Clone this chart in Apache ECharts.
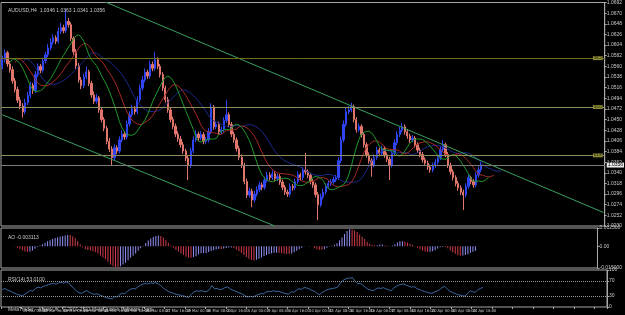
<!DOCTYPE html>
<html>
<head>
<meta charset="utf-8">
<script src="https://cdn.jsdelivr.net/npm/echarts@6/dist/echarts.min.js"></script>
<style>
  html, body { margin: 0; padding: 0; background: #000; }
  #chart { width: 625px; height: 315px; }
</style>
</head>
<body>
<div id="chart"></div>
<script>
// ===== AUDUSD H4 candles =====
var opens = [
  1.0560, 1.0574, 1.0588, 1.0565, 1.0553, 1.0530, 1.0512, 1.0490, 1.0478, 1.0466,
  1.0485, 1.0500, 1.0521, 1.0510, 1.0543, 1.0560, 1.0552, 1.0571, 1.0584, 1.0598,
  1.0610, 1.0619, 1.0612, 1.0632, 1.0640, 1.0634, 1.0653, 1.0646, 1.0618, 1.0590,
  1.0561, 1.0532, 1.0520, 1.0538, 1.0549, 1.0525, 1.0501, 1.0488, 1.0495, 1.0470,
  1.0450, 1.0432, 1.0405, 1.0389, 1.0371, 1.0392, 1.0385, 1.0408, 1.0420, 1.0414,
  1.0441, 1.0460, 1.0472, 1.0466, 1.0491, 1.0515, 1.0532, 1.0548, 1.0540, 1.0564,
  1.0556, 1.0574, 1.0560, 1.0543, 1.0515, 1.0491, 1.0470, 1.0450, 1.0436, 1.0420,
  1.0410, 1.0398, 1.0385, 1.0370, 1.0356, 1.0385, 1.0408, 1.0420, 1.0412, 1.0419,
  1.0405, 1.0408, 1.0425, 1.0476, 1.0435, 1.0440, 1.0425, 1.0429, 1.0448, 1.0460,
  1.0440, 1.0420, 1.0408, 1.0390, 1.0372, 1.0356, 1.0322, 1.0294, 1.0302, 1.0284,
  1.0296, 1.0305, 1.0315, 1.0310, 1.0325, 1.0335, 1.0330, 1.0338, 1.0328, 1.0332,
  1.0321, 1.0310, 1.0300, 1.0296, 1.0312, 1.0309, 1.0322, 1.0336, 1.0330, 1.0345,
  1.0342, 1.0335, 1.0322, 1.0315, 1.0295, 1.0274, 1.0290, 1.0300, 1.0312, 1.0318,
  1.0321, 1.0326, 1.0330, 1.0365, 1.0408, 1.0440, 1.0466, 1.0470, 1.0477, 1.0450,
  1.0429, 1.0436, 1.0419, 1.0398, 1.0377, 1.0365, 1.0356, 1.0372, 1.0387, 1.0380,
  1.0390, 1.0377, 1.0368, 1.0356, 1.0380, 1.0402, 1.0419, 1.0428, 1.0435, 1.0425,
  1.0416, 1.0408, 1.0412, 1.0398, 1.0387, 1.0378, 1.0367, 1.0360, 1.0352, 1.0346,
  1.0355, 1.0362, 1.0371, 1.0388, 1.0398, 1.0378, 1.0356, 1.0342, 1.0330, 1.0318,
  1.0309, 1.0300, 1.0294, 1.0312, 1.0330, 1.0322, 1.0315, 1.0335, 1.0346
];
var closes = [
  1.0574, 1.0588, 1.0565, 1.0553, 1.0530, 1.0512, 1.0490, 1.0478, 1.0466, 1.0485,
  1.0500, 1.0521, 1.0510, 1.0543, 1.0560, 1.0552, 1.0571, 1.0584, 1.0598, 1.0610,
  1.0619, 1.0612, 1.0632, 1.0640, 1.0634, 1.0653, 1.0646, 1.0618, 1.0590, 1.0561,
  1.0532, 1.0520, 1.0538, 1.0549, 1.0525, 1.0501, 1.0488, 1.0495, 1.0470, 1.0450,
  1.0432, 1.0405, 1.0389, 1.0371, 1.0392, 1.0385, 1.0408, 1.0420, 1.0414, 1.0441,
  1.0460, 1.0472, 1.0466, 1.0491, 1.0515, 1.0532, 1.0548, 1.0540, 1.0564, 1.0556,
  1.0574, 1.0560, 1.0543, 1.0515, 1.0491, 1.0470, 1.0450, 1.0436, 1.0420, 1.0410,
  1.0398, 1.0385, 1.0370, 1.0356, 1.0385, 1.0408, 1.0420, 1.0412, 1.0419, 1.0405,
  1.0408, 1.0425, 1.0476, 1.0435, 1.0440, 1.0425, 1.0429, 1.0448, 1.0460, 1.0440,
  1.0420, 1.0408, 1.0390, 1.0372, 1.0356, 1.0322, 1.0294, 1.0302, 1.0284, 1.0296,
  1.0305, 1.0315, 1.0310, 1.0325, 1.0335, 1.0330, 1.0338, 1.0328, 1.0332, 1.0321,
  1.0310, 1.0300, 1.0296, 1.0312, 1.0309, 1.0322, 1.0336, 1.0330, 1.0345, 1.0342,
  1.0335, 1.0322, 1.0315, 1.0295, 1.0274, 1.0290, 1.0300, 1.0312, 1.0318, 1.0321,
  1.0326, 1.0330, 1.0365, 1.0408, 1.0440, 1.0466, 1.0470, 1.0477, 1.0450, 1.0429,
  1.0436, 1.0419, 1.0398, 1.0377, 1.0365, 1.0356, 1.0372, 1.0387, 1.0380, 1.0390,
  1.0377, 1.0368, 1.0356, 1.0380, 1.0402, 1.0419, 1.0428, 1.0435, 1.0425, 1.0416,
  1.0408, 1.0412, 1.0398, 1.0387, 1.0378, 1.0367, 1.0360, 1.0352, 1.0346, 1.0355,
  1.0362, 1.0371, 1.0388, 1.0398, 1.0378, 1.0356, 1.0342, 1.0330, 1.0318, 1.0309,
  1.0300, 1.0294, 1.0312, 1.0330, 1.0322, 1.0315, 1.0335, 1.0346, 1.0356
];
var highs = [
  1.0582, 1.0595, 1.0592, 1.0571, 1.0560, 1.0536, 1.0518, 1.0497, 1.0484, 1.0493,
  1.0507, 1.0528, 1.0526, 1.0550, 1.0566, 1.0565, 1.0578, 1.0590, 1.0606, 1.0618,
  1.0626, 1.0624, 1.0640, 1.0650, 1.0646, 1.0678, 1.0660, 1.0651, 1.0622, 1.0596,
  1.0567, 1.0538, 1.0545, 1.0560, 1.0553, 1.0530, 1.0508, 1.0503, 1.0499, 1.0476,
  1.0455, 1.0437, 1.0412, 1.0395, 1.0399, 1.0397, 1.0415, 1.0428, 1.0426, 1.0448,
  1.0467, 1.0480, 1.0478, 1.0498, 1.0522, 1.0540, 1.0556, 1.0553, 1.0572, 1.0570,
  1.0590, 1.0579, 1.0565, 1.0548, 1.0520, 1.0497, 1.0476, 1.0456, 1.0442, 1.0426,
  1.0416, 1.0404, 1.0390, 1.0376, 1.0392, 1.0415, 1.0428, 1.0425, 1.0426, 1.0424,
  1.0414, 1.0432, 1.0484, 1.0480, 1.0447, 1.0446, 1.0436, 1.0455, 1.0491, 1.0465,
  1.0445, 1.0425, 1.0413, 1.0396, 1.0378, 1.0361, 1.0328, 1.0309, 1.0307, 1.0303,
  1.0312, 1.0322, 1.0320, 1.0332, 1.0342, 1.0341, 1.0345, 1.0343, 1.0338, 1.0337,
  1.0326, 1.0315, 1.0305, 1.0318, 1.0317, 1.0328, 1.0343, 1.0340, 1.0352, 1.0381,
  1.0347, 1.0340, 1.0327, 1.0320, 1.0300, 1.0297, 1.0307, 1.0318, 1.0324, 1.0327,
  1.0332, 1.0336, 1.0372, 1.0415, 1.0448, 1.0474, 1.0478, 1.0485, 1.0481, 1.0455,
  1.0442, 1.0440, 1.0424, 1.0403, 1.0382, 1.0370, 1.0378, 1.0394, 1.0392, 1.0396,
  1.0395, 1.0382, 1.0373, 1.0386, 1.0409, 1.0426, 1.0435, 1.0443, 1.0440, 1.0430,
  1.0421, 1.0418, 1.0416, 1.0403, 1.0392, 1.0383, 1.0372, 1.0365, 1.0357, 1.0361,
  1.0368, 1.0377, 1.0395, 1.0408, 1.0402, 1.0383, 1.0361, 1.0347, 1.0335, 1.0323,
  1.0314, 1.0305, 1.0318, 1.0337, 1.0334, 1.0327, 1.0341, 1.0353, 1.0363
];
var lows = [
  1.0554, 1.0568, 1.0559, 1.0547, 1.0524, 1.0506, 1.0484, 1.0471, 1.0454, 1.0461,
  1.0480, 1.0494, 1.0503, 1.0505, 1.0538, 1.0546, 1.0547, 1.0566, 1.0579, 1.0593,
  1.0605, 1.0606, 1.0607, 1.0627, 1.0628, 1.0629, 1.0640, 1.0612, 1.0584, 1.0555,
  1.0526, 1.0513, 1.0515, 1.0533, 1.0519, 1.0495, 1.0482, 1.0483, 1.0464, 1.0444,
  1.0426, 1.0399, 1.0383, 1.0356, 1.0366, 1.0379, 1.0380, 1.0403, 1.0408, 1.0409,
  1.0436, 1.0455, 1.0460, 1.0461, 1.0486, 1.0510, 1.0527, 1.0534, 1.0535, 1.0550,
  1.0551, 1.0554, 1.0537, 1.0509, 1.0485, 1.0464, 1.0444, 1.0430, 1.0414, 1.0404,
  1.0392, 1.0379, 1.0364, 1.0325, 1.0350, 1.0380, 1.0403, 1.0406, 1.0407, 1.0399,
  1.0400, 1.0403, 1.0420, 1.0429, 1.0430, 1.0419, 1.0420, 1.0424, 1.0443, 1.0434,
  1.0414, 1.0402, 1.0384, 1.0366, 1.0350, 1.0316, 1.0288, 1.0289, 1.0269, 1.0279,
  1.0291, 1.0300, 1.0304, 1.0305, 1.0320, 1.0324, 1.0325, 1.0322, 1.0323, 1.0315,
  1.0304, 1.0294, 1.0290, 1.0291, 1.0303, 1.0304, 1.0317, 1.0324, 1.0325, 1.0336,
  1.0329, 1.0316, 1.0309, 1.0289, 1.0242, 1.0269, 1.0285, 1.0295, 1.0307, 1.0313,
  1.0316, 1.0321, 1.0325, 1.0360, 1.0403, 1.0435, 1.0461, 1.0465, 1.0444, 1.0423,
  1.0424, 1.0413, 1.0392, 1.0371, 1.0359, 1.0332, 1.0351, 1.0367, 1.0374, 1.0375,
  1.0371, 1.0362, 1.0325, 1.0351, 1.0375, 1.0397, 1.0414, 1.0423, 1.0419, 1.0410,
  1.0402, 1.0403, 1.0392, 1.0381, 1.0372, 1.0361, 1.0354, 1.0346, 1.0340, 1.0341,
  1.0350, 1.0357, 1.0366, 1.0383, 1.0372, 1.0350, 1.0336, 1.0324, 1.0312, 1.0303,
  1.0294, 1.0263, 1.0289, 1.0307, 1.0316, 1.0309, 1.0310, 1.0330, 1.0341
];

// trend channel points [bar index, price] and levels
var upperTrend = [[36, 1.0703], [236, 1.0258]];
var lowerTrend = [[0, 1.0460], [107, 1.0230]];
var fibLevels = [1.0577, 1.0476, 1.0376];
var fibNames = ['38.2', '50.0', '61.8'];
var bidPrice = 1.0356;

var priceMin = 1.0230, priceMax = 1.0692, priceStep = 0.0022;
var aoMin = -0.0150, aoMax = 0.0125;
var rsiTicks = [0, 30, 70, 100];
var emptySlots = 48;

var months = ['Jan','Feb','Mar','Apr','May','Jun','Jul','Aug','Sep','Oct','Nov','Dec'];

// bar times H4, weekends skipped
var cats = [];
var day = Date.UTC(2012, 2, 13);
while (cats.length < closes.length) {
  var dt = new Date(day);
  var wd = dt.getUTCDay();
  if (wd !== 0 && wd !== 6) {
    for (var h = 0; h < 24 && cats.length < closes.length; h += 4) {
      cats.push(dt.getUTCDate() + ' ' + months[dt.getUTCMonth()] + ' ' + (h < 10 ? '0' + h : h) + ':00');
    }
  }
  day += 86400000;
}
for (var e = 0; e < emptySlots; e++) cats.push('');

var candles = opens.map(function(o, i) { return [o, closes[i], lows[i], highs[i]]; });
var median = highs.map(function(hv, i) { return (hv + lows[i]) / 2; });

// Alligator smoothed MAs
function smma(src, n) {
  var out = [], sum = 0, prev = 0;
  for (var i = 0; i < src.length; i++) {
    if (i < n) { sum += src[i]; prev = sum / (i + 1); }
    else { prev = (prev * (n - 1) + src[i]) / n; }
    out.push(+prev.toFixed(5));
  }
  return out;
}
function shift(arr, k) {
  var out = [];
  for (var i = 0; i < k; i++) out.push(null);
  return out.concat(arr);
}
var jaw = shift(smma(median, 13), 8);
var teeth = shift(smma(median, 8), 5);
var lips = shift(smma(median, 5), 3);

// Awesome oscillator
function sma(src, n) {
  var out = [];
  for (var i = 0; i < src.length; i++) {
    var s = 0, c = 0;
    for (var j = Math.max(0, i - n + 1); j <= i; j++) { s += src[j]; c++; }
    out.push(s / c);
  }
  return out;
}
var sma5 = sma(median, 5), sma34 = sma(median, 34);
var ao = sma5.map(function(v, i) { return +(v - sma34[i]).toFixed(6); });

// RSI 14 (Wilder), seeded with the mean gain/loss of the first 14 changes
var ag = 0, al = 0;
for (var s = 1; s <= 14; s++) {
  var d0 = closes[s] - closes[s - 1];
  if (d0 > 0) ag += d0; else al -= d0;
}
ag /= 14; al /= 14;
var rsi = [+(100 - 100 / (1 + ag / al)).toFixed(2)];
for (var i = 1; i < closes.length; i++) {
  var ch = closes[i] - closes[i - 1];
  ag = (ag * 13 + (ch > 0 ? ch : 0)) / 14;
  al = (al * 13 + (ch < 0 ? -ch : 0)) / 14;
  rsi.push(+(100 - 100 / (1 + ag / al)).toFixed(2));
}

var last = closes.length - 1;
var headText = 'AUDUSD,H4  ' + opens[last].toFixed(4) + ' ' + highs[last].toFixed(4) + ' ' +
  lows[last].toFixed(4) + ' ' + closes[last].toFixed(4);

var font = 'Liberation Sans';
var narrow = "'Liberation Sans Narrow', 'DejaVu Sans Condensed', 'Liberation Sans'";
var txt = '#c8c8c8';
var axisGray = '#a8a8a8';

var chart = echarts.init(document.getElementById('chart'));

var gridBase = { left: 1, right: 18, show: true, borderColor: axisGray, borderWidth: 1, backgroundColor: '#000' };

function catAxis(idx, showLabels) {
  return {
    type: 'category', gridIndex: idx, data: cats, boundaryGap: true,
    axisLine: { show: false },
    axisTick: { show: showLabels, interval: 7, length: 2, lineStyle: { color: axisGray } },
    axisLabel: {
      show: showLabels, interval: 7, fontSize: 4, color: txt, fontFamily: narrow, align: 'left', margin: 2,
      hideOverlap: false,
      formatter: function(v, i) { return i === 0 ? '13 Mar 2012' : v; }
    },
    splitLine: { show: false }
  };
}

function levelLine(v, color, label) {
  return { yAxis: v, lineStyle: { color: color, type: 'solid', width: 1 }, label: label };
}

var option = {
  backgroundColor: '#000',
  animation: false,
  title: [
    { text: headText, left: 3, top: 3, textStyle: { fontSize: 5, color: txt, fontWeight: 'normal', fontFamily: font } },
    { text: 'AO ' + ao[last].toFixed(6), left: 3, top: 230, textStyle: { fontSize: 5, color: txt, fontWeight: 'normal', fontFamily: font } },
    { text: 'RSI(14) ' + rsi[last].toFixed(4), left: 3, top: 272, textStyle: { fontSize: 5, color: txt, fontWeight: 'normal', fontFamily: font } },
    { text: 'MetaTrader - Alpari UK, \u00a9 2001-2011 MetaQuotes Software Corp.', left: 3, top: 302, textStyle: { fontSize: 5, color: txt, fontWeight: 'normal', fontFamily: font } }
  ],
  grid: [
    Object.assign({ top: 2, height: 224 }, gridBase),
    Object.assign({ top: 228, height: 40 }, gridBase),
    Object.assign({ top: 270, height: 37 }, gridBase)
  ],
  xAxis: [catAxis(0, false), catAxis(1, false), catAxis(2, true)],
  yAxis: [
    {
      type: 'value', gridIndex: 0, position: 'right', min: priceMin, max: priceMax, interval: priceStep,
      axisLine: { show: true, lineStyle: { color: axisGray } },
      axisTick: { show: true, length: 2, lineStyle: { color: axisGray } },
      axisLabel: { fontSize: 5, color: txt, fontFamily: font, margin: 2, formatter: function(v) { return v.toFixed(4); } },
      splitLine: { show: false }
    },
    {
      type: 'value', gridIndex: 1, position: 'right', min: aoMin, max: aoMax,
      axisLine: { show: true, lineStyle: { color: axisGray } },
      axisTick: { show: true, length: 2, customValues: [aoMin, 0, aoMax], lineStyle: { color: axisGray } },
      axisLabel: {
        fontSize: 5, color: txt, fontFamily: font, margin: 2, customValues: [aoMin, 0, aoMax],
        formatter: function(v) { return v === 0 ? '0.00' : v.toFixed(6); }
      },
      splitLine: { show: false }
    },
    {
      type: 'value', gridIndex: 2, position: 'right', min: 0, max: 100,
      axisLine: { show: true, lineStyle: { color: axisGray } },
      axisTick: { show: true, length: 2, customValues: rsiTicks, lineStyle: { color: axisGray } },
      axisLabel: { fontSize: 5, color: txt, fontFamily: font, margin: 2, customValues: rsiTicks },
      splitLine: { show: false }
    }
  ],
  series: [
    {
      name: 'AUDUSD', type: 'candlestick', xAxisIndex: 0, yAxisIndex: 0, data: candles, barWidth: 1.8,
      itemStyle: { color: '#2f45f2', color0: '#e0766c', borderColor: '#2f45f2', borderColor0: '#e0766c', borderWidth: 1 },
      markLine: {
        silent: true, symbol: 'none', animation: false, precision: 5,
        data: fibLevels.map(function(v, k) {
          return levelLine(v, k === 0 ? '#6e6e1c' : '#8e8e5a', {
            show: true, position: 'insideEnd', formatter: fibNames[k], fontSize: 4, color: '#1a1a00',
            backgroundColor: '#8a8a38', padding: [0, 1], distance: 2, fontFamily: font
          });
        }).concat([levelLine(bidPrice, '#7e7e78', {
          show: true, position: 'end', formatter: bidPrice.toFixed(4), fontSize: 5, color: '#000',
          backgroundColor: '#e8e8e8', padding: [0, 1], distance: 2, fontFamily: font
        })])
      }
    },
    { name: 'Jaw', type: 'line', xAxisIndex: 0, yAxisIndex: 0, data: jaw, showSymbol: false, lineStyle: { color: '#1c2a8a', width: 1 } },
    { name: 'Teeth', type: 'line', xAxisIndex: 0, yAxisIndex: 0, data: teeth, showSymbol: false, lineStyle: { color: '#a82a24', width: 1 } },
    { name: 'Lips', type: 'line', xAxisIndex: 0, yAxisIndex: 0, data: lips, showSymbol: false, lineStyle: { color: '#1f9a2a', width: 1 } },
    { name: 'Upper channel', type: 'line', xAxisIndex: 0, yAxisIndex: 0, data: upperTrend, showSymbol: false, lineStyle: { color: '#3aa060', width: 1 } },
    { name: 'Lower channel', type: 'line', xAxisIndex: 0, yAxisIndex: 0, data: lowerTrend, showSymbol: false, lineStyle: { color: '#3aa060', width: 1 } },
    {
      name: 'AO', type: 'bar', xAxisIndex: 1, yAxisIndex: 1, barWidth: 1,
      data: ao.map(function(v, i) {
        return { value: v, itemStyle: { color: (i > 0 && v < ao[i - 1]) ? '#d03a4a' : '#9090f4' } };
      })
    },
    {
      name: 'RSI', type: 'line', xAxisIndex: 2, yAxisIndex: 2, data: rsi, showSymbol: false,
      lineStyle: { color: '#3a68a0', width: 1 },
      markLine: {
        silent: true, symbol: 'none', label: { show: false },
        lineStyle: { color: '#9a9a9a', type: 'dotted', width: 1 },
        data: [{ yAxis: 30 }, { yAxis: 70 }]
      }
    }
  ]
};

chart.setOption(option);
</script>
</body>
</html>
